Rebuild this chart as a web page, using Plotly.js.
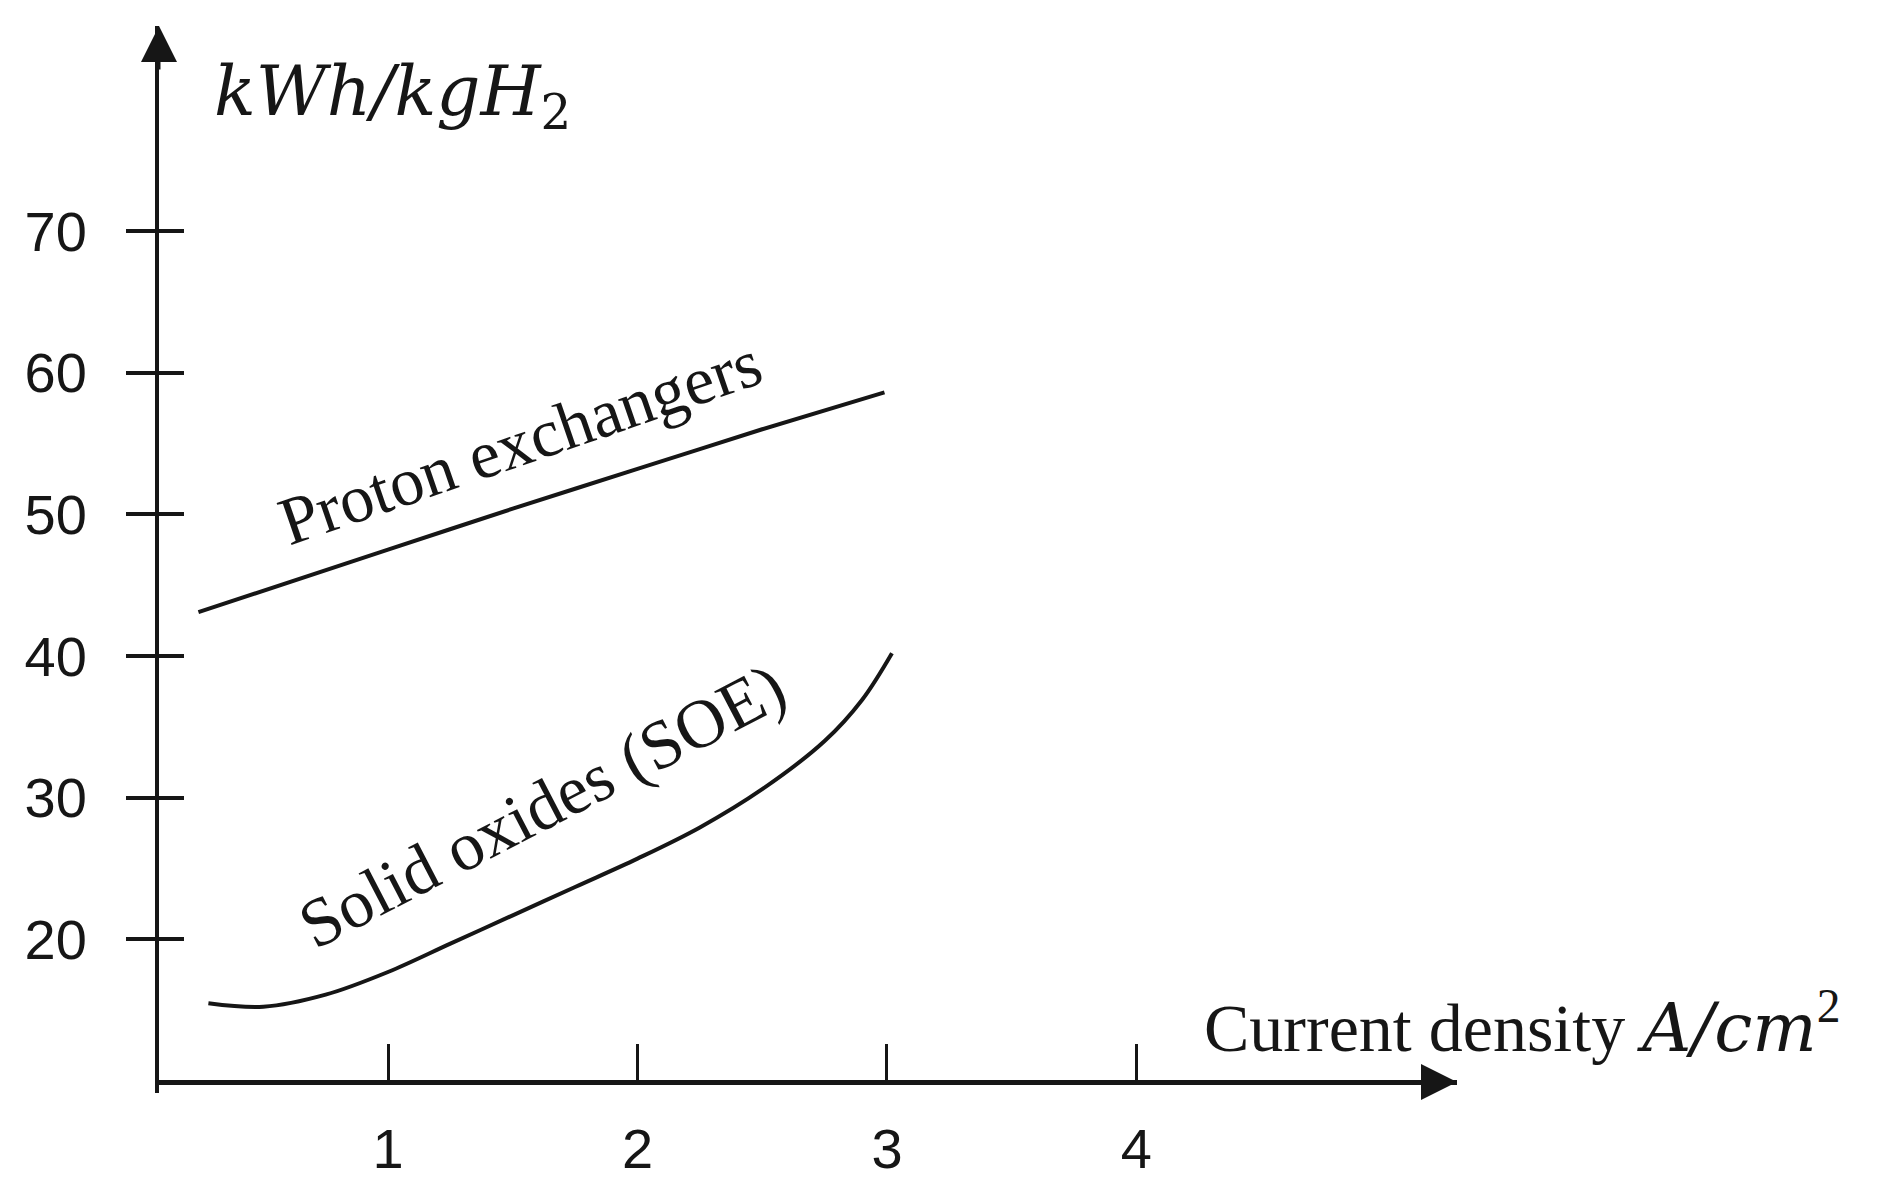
<!DOCTYPE html>
<html>
<head>
<meta charset="utf-8">
<script src="https://cdn.plot.ly/plotly-3.0.1.min.js"></script>
<style>
  html, body { margin: 0; padding: 0; background: #ffffff; }
  #chart { width: 1880px; height: 1190px; }
</style>
</head>
<body>
<div id="chart"></div>
<script>
// ---- data ----
const currentTicks = [1, 2, 3, 4];
const currentTickLabels = ['1', '2', '3', '4'];
const energyTicks = [20, 30, 40, 50, 60, 70];
const energyTickLabels = ['20', '30', '40', '50', '60', '70'];

const protonName = 'Proton exchangers';
const protonX = [0.24, 1.0, 1.5, 2.0, 2.5, 2.99];
const protonY = [43.1, 47.5, 50.4, 53.2, 56.0, 58.6];

const soeName = 'Solid oxides (SOE)';
const soeX = [0.28, 0.50, 0.75, 1.00, 1.25, 1.50, 1.75, 2.00, 2.25, 2.50, 2.75, 2.90, 3.02];
const soeY = [15.5, 15.25, 16.1, 17.7, 19.7, 21.7, 23.7, 25.7, 27.9, 30.6, 34.0, 36.9, 40.2];

const xTitleText = 'Current density <span style="font-family:DejaVu Serif;font-style:italic">A/cm</span><sup>2</sup>';
const yTitleText = '<i>kWh/kgH</i><sub>2</sub>';

// ---- styles ----
const ink = '#161616';
const xRange = [0.082, 5.285];
const yRange = [9.16, 84.46];
const tickFont = {family: 'Liberation Sans, Arial, sans-serif', size: 56, color: ink};
const serif = 'Liberation Serif, Times New Roman, serif';

const traces = [
  {x: protonX, y: protonY, name: protonName, type: 'scatter', mode: 'lines',
   line: {color: ink, width: 4, shape: 'spline', smoothing: 0.6}, xaxis: 'x', yaxis: 'y', hoverinfo: 'skip'},
  {x: soeX, y: soeY, name: soeName, type: 'scatter', mode: 'lines',
   line: {color: ink, width: 4, shape: 'spline', smoothing: 1.0}, xaxis: 'x', yaxis: 'y2', hoverinfo: 'skip'}
];

const layout = {
  width: 1880, height: 1190,
  margin: {l: 159, r: 423, t: 26, b: 97, pad: 0},
  paper_bgcolor: '#ffffff', plot_bgcolor: '#ffffff',
  showlegend: false,
  xaxis: {
    range: xRange, anchor: 'free', position: 0.0103,
    showline: true, linecolor: ink, linewidth: 4.5,
    showgrid: false, zeroline: false,
    tickmode: 'array', tickvals: currentTicks, ticktext: currentTickLabels,
    ticks: 'inside', ticklen: 36, tickwidth: 3, tickcolor: ink,
    tickfont: tickFont, ticklabelstandoff: 16,
    automargin: false
  },
  yaxis: {
    range: yRange, anchor: 'x', side: 'left',
    showline: true, linecolor: ink, linewidth: 4,
    showgrid: false, zeroline: false,
    tickmode: 'array', tickvals: energyTicks, ticktext: energyTickLabels,
    ticks: 'outside', ticklen: 29, tickwidth: 4, tickcolor: ink,
    tickfont: tickFont, ticklabelstandoff: 28,
    automargin: false
  },
  yaxis2: {
    range: yRange, overlaying: 'y', side: 'left', anchor: 'x',
    showline: false, showgrid: false, zeroline: false,
    tickmode: 'array', tickvals: energyTicks,
    ticks: 'inside', ticklen: 25, tickwidth: 4, tickcolor: ink,
    showticklabels: false, automargin: false
  },
  annotations: [
    // y axis arrow
    {xref: 'paper', yref: 'paper', x: 0, y: 1, ax: 0, ay: 45, axref: 'pixel', ayref: 'pixel',
     showarrow: true, arrowhead: 2, arrowsize: 2.4, arrowwidth: 3, arrowcolor: ink, text: '', standoff: 0},
    // x axis arrow
    {xref: 'paper', yref: 'paper', x: 1, y: 0.0103, ax: -45, ay: 0,
     showarrow: true, arrowhead: 2, arrowsize: 2.4, arrowwidth: 3, arrowcolor: ink, text: '', standoff: 0},
    // y title
    {xref: 'paper', yref: 'paper', x: 0.0408, y: 0.9344, xanchor: 'left', yanchor: 'middle',
     showarrow: false, text: yTitleText,
     font: {family: 'DejaVu Serif, serif', size: 69, color: ink}},
    // x title
    {xref: 'paper', yref: 'paper', x: 0.8035, y: 0.0647, xanchor: 'left', yanchor: 'middle',
     showarrow: false, text: xTitleText,
     font: {family: serif, size: 68, color: ink}},
    // curve labels
    {xref: 'paper', yref: 'paper', x: 0.2781, y: 0.6101, xanchor: 'center', yanchor: 'middle',
     showarrow: false, text: protonName, textangle: -19,
     font: {family: serif, size: 68, color: ink}},
    {xref: 'paper', yref: 'paper', x: 0.2951, y: 0.2690, xanchor: 'center', yanchor: 'middle',
     showarrow: false, text: soeName, textangle: -27.5,
     font: {family: serif, size: 69, color: ink}}
  ]
};

Plotly.newPlot('chart', traces, layout, {displayModeBar: false, staticPlot: true});
</script>
</body>
</html>
